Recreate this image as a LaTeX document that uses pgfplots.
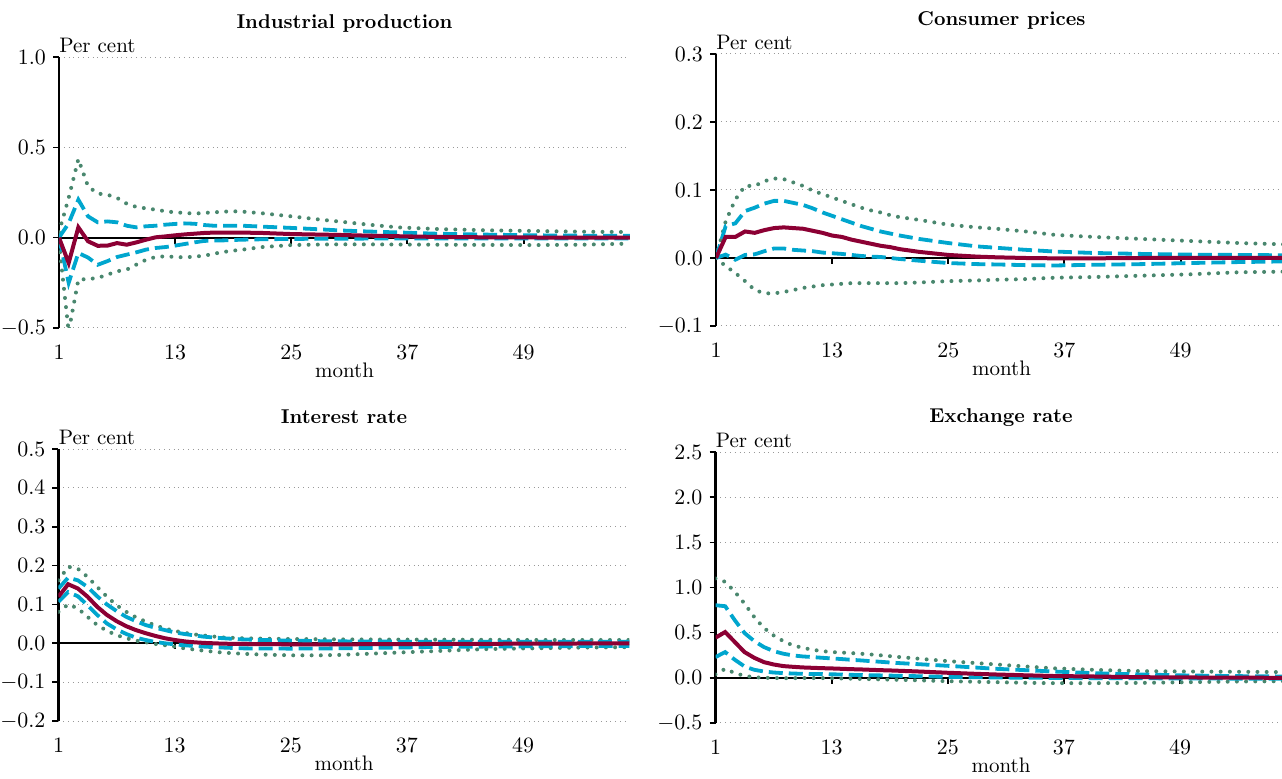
\documentclass[border=0pt]{standalone}
\usepackage{pgfplots}
\usepackage{pgfplotstable}
\pgfplotsset{compat=1.18}
\definecolor{irfred}{RGB}{140,0,52}
\definecolor{irfcyan}{RGB}{0,166,206}
\definecolor{irfgreen}{RGB}{73,135,110}

\pgfplotstableread{
m med uD lD uO lO
1 0 0 0 0.03 -0.03
2 -0.14 0.08 -0.25 0.22 -0.52
3 0.057 0.21 -0.085 0.435 -0.232
4 -0.02 0.118 -0.11 0.284 -0.229
5 -0.045 0.085 -0.15 0.244 -0.223
6 -0.044 0.09 -0.13 0.238 -0.205
7 -0.03 0.085 -0.107 0.22 -0.186
8 -0.039 0.066 -0.094 0.188 -0.177
9 -0.026 0.057 -0.081 0.17 -0.149
10 -0.011 0.063 -0.066 0.162 -0.122
11 0.002 0.066 -0.057 0.155 -0.107
12 0.007 0.072 -0.052 0.146 -0.103
13 0.013 0.076 -0.044 0.14 -0.107
14 0.018 0.079 -0.035 0.137 -0.109
15 0.022 0.077 -0.026 0.133 -0.105
16 0.026 0.07 -0.018 0.137 -0.1
17 0.028 0.066 -0.016 0.14 -0.089
18 0.028 0.066 -0.015 0.144 -0.079
19 0.028 0.066 -0.013 0.146 -0.072
20 0.028 0.066 -0.011 0.144 -0.066
22 0.026 0.061 -0.009 0.135 -0.052
25 0.02 0.054 -0.007 0.118 -0.041
28 0.017 0.046 -0.006 0.1 -0.038
30 0.015 0.04 -0.006 0.089 -0.037
33 0.011 0.034 -0.005 0.072 -0.037
36 0.008 0.029 -0.005 0.057 -0.038
40 0.004 0.022 -0.004 0.048 -0.039
45 0.002 0.017 -0.004 0.041 -0.04
50 0.001 0.013 -0.004 0.037 -0.041
55 0 0.011 -0.004 0.033 -0.039
60 0 0.011 -0.004 0.031 -0.033
}\ipdata

\pgfplotstableread{
m med uD lD uO lO
1 0 0 0 0 0
2 0.031 0.047 0.005 0.054 -0.012
3 0.031 0.051 -0.0025 0.086 -0.022
4 0.039 0.069 0.0045 0.106 -0.034
5 0.037 0.074 0.0054 0.106 -0.047
6 0.041 0.08 0.01 0.113 -0.052
7 0.044 0.084 0.014 0.117 -0.052
8 0.045 0.084 0.014 0.116 -0.05
9 0.044 0.081 0.012 0.111 -0.047
10 0.043 0.078 0.011 0.106 -0.044
11 0.04 0.073 0.01 0.099 -0.042
12 0.037 0.067 0.008 0.094 -0.04
13 0.033 0.062 0.007 0.089 -0.039
14 0.031 0.057 0.006 0.084 -0.038
15 0.027 0.052 0.0045 0.079 -0.037
16 0.024 0.047 0.003 0.074 -0.037
17 0.021 0.043 0.002 0.07 -0.037
18 0.018 0.039 0.0015 0.067 -0.037
19 0.016 0.036 0.0 0.063 -0.037
20 0.013 0.033 -0.0015 0.06 -0.037
22 0.009 0.028 -0.004 0.056 -0.036
25 0.0045 0.022 -0.0074 0.049 -0.034
28 0.002 0.017 -0.009 0.045 -0.033
30 0.001 0.015 -0.0095 0.043 -0.032
33 0.0 0.012 -0.0105 0.039 -0.031
36 -0.0005 0.0095 -0.011 0.034 -0.029
40 -0.0005 0.0074 -0.01 0.031 -0.028
45 0 0.006 -0.009 0.028 -0.026
50 0 0.005 -0.0074 0.025 -0.024
55 0 0.0045 -0.006 0.022 -0.021
60 0 0.004 -0.005 0.02 -0.02
}\cpdata

\pgfplotstableread{
m med uD lD uO lO
1 0.12 0.141 0.107 0.162 0.081
2 0.152 0.169 0.132 0.197 0.1
3 0.141 0.162 0.121 0.192 0.09
4 0.12 0.145 0.098 0.171 0.068
5 0.094 0.121 0.073 0.145 0.047
6 0.073 0.1 0.051 0.12 0.032
7 0.057 0.083 0.036 0.098 0.021
8 0.044 0.068 0.024 0.081 0.013
9 0.034 0.057 0.0145 0.067 0.0068
10 0.026 0.047 0.0085 0.056 0.0026
11 0.019 0.04 0.0034 0.046 -0.0017
12 0.013 0.034 0 0.038 -0.005
13 0.0085 0.028 -0.0026 0.032 -0.0085
14 0.005 0.024 -0.005 0.027 -0.013
15 0.0026 0.0205 -0.007 0.023 -0.016
16 0.001 0.017 -0.0085 0.02 -0.019
17 0 0.015 -0.0098 0.0175 -0.0215
18 -0.001 0.013 -0.011 0.015 -0.024
19 -0.0014 0.0115 -0.012 0.014 -0.0255
20 -0.0017 0.01 -0.013 0.013 -0.027
22 -0.0022 0.0085 -0.0135 0.012 -0.029
25 -0.0026 0.0068 -0.0137 0.011 -0.031
28 -0.0026 0.0055 -0.0133 0.0105 -0.031
30 -0.0026 0.005 -0.013 0.01 -0.03
33 -0.0024 0.0045 -0.012 0.0098 -0.027
36 -0.0021 0.0042 -0.011 0.0095 -0.024
40 -0.0017 0.004 -0.0094 0.0094 -0.02
45 -0.0013 0.004 -0.0085 0.009 -0.015
50 -0.001 0.004 -0.0077 0.0085 -0.013
55 -0.0005 0.004 -0.0072 0.0085 -0.011
60 0 0.004 -0.0068 0.0085 -0.01
}\irdata

\pgfplotstableread{
m med uD lD uO lO
1 0.444 0.804 0.23 1.1 0.037
2 0.507 0.793 0.285 1.063 0.1
3 0.396 0.637 0.2 0.952 0.052
4 0.285 0.496 0.126 0.822 0.022
5 0.222 0.407 0.089 0.674 0.007
6 0.174 0.341 0.07 0.552 0
7 0.148 0.296 0.059 0.47 -0.002
8 0.13 0.267 0.052 0.407 -0.004
9 0.122 0.248 0.048 0.359 -0.003
10 0.115 0.237 0.044 0.333 -0.002
11 0.111 0.23 0.042 0.311 -0.002
12 0.107 0.222 0.041 0.296 -0.003
13 0.104 0.215 0.039 0.285 -0.004
14 0.1 0.208 0.037 0.28 -0.007
15 0.096 0.2 0.033 0.274 -0.009
16 0.093 0.193 0.031 0.267 -0.012
17 0.089 0.185 0.029 0.259 -0.015
18 0.085 0.178 0.027 0.25 -0.017
19 0.082 0.17 0.025 0.24 -0.02
20 0.078 0.163 0.022 0.23 -0.022
22 0.07 0.151 0.018 0.212 -0.028
25 0.056 0.133 0.011 0.185 -0.037
28 0.044 0.113 0.006 0.163 -0.044
30 0.037 0.1 0.004 0.148 -0.048
33 0.028 0.085 0.001 0.126 -0.055
36 0.02 0.07 -0.001 0.105 -0.059
40 0.015 0.052 -0.004 0.089 -0.059
45 0.007 0.037 -0.005 0.074 -0.056
50 0.004 0.026 -0.007 0.07 -0.048
55 0.002 0.019 -0.009 0.067 -0.041
60 0 0.015 -0.011 0.063 -0.037
}\erdata

\pgfplotsset{
  irf/.style={
    scale only axis, width=285.5pt, height=135.5pt,
    xmin=1, xmax=60, xtick={1,13,25,37,49},
    axis x line=bottom, axis y line=left,
    axis line style={-},
    x axis line style={draw=none},
    y axis line style={line width=1.4pt},
    xtick style={draw=none},
    ytick style={black, line width=0.8pt},
    tick align=outside, major tick length=3pt,
    ymajorgrids, grid style={gray!80, dotted, line width=0.5pt},
    tick label style={font=\fontsize{11}{12}\selectfont},
    xticklabel style={yshift=-2pt},
    yticklabel style={/pgf/number format/.cd, fixed, fixed zerofill, precision=1},
    xlabel={month}, xlabel style={font=\fontsize{10.5}{12}\selectfont, yshift=5pt},
    title style={font=\bfseries\fontsize{10}{12}\selectfont, yshift=3pt},
    clip mode=individual,
  },
  med/.style={irfred, line width=2pt},
  b68/.style={irfcyan, line width=1.9pt, dash pattern=on 7pt off 3pt},
  b90/.style={irfgreen, line width=2pt, line cap=round, dash pattern=on 0pt off 4.6pt},
}

\newcommand{\zeroline}{%
  \draw[black, line width=1pt] (axis cs:1,0) -- (axis cs:60,0);
  \pgfplotsinvokeforeach{13,25,37,49}{\draw[black, line width=1pt] (axis cs:##1,0) -- ([yshift=-3pt]axis cs:##1,0);}
  \node[anchor=south west, inner sep=0pt, font=\fontsize{10.5}{12}\selectfont] at (rel axis cs:0,1) [yshift=2pt] {Per cent};
}
\newcommand{\irfplots}[1]{%
  \addplot[b90] table[x=m, y=uO] {#1};
  \addplot[b90] table[x=m, y=lO] {#1};
  \addplot[b68] table[x=m, y=uD] {#1};
  \addplot[b68] table[x=m, y=lD] {#1};
  \addplot[med] table[x=m, y=med] {#1};
}

\begin{document}
\begin{tikzpicture}
\useasboundingbox (0,0) rectangle (641pt,389pt);

\begin{axis}[irf, at={(29.5pt,225pt)}, anchor=south west,
  title={Industrial production}, ymin=-0.5, ymax=1.0, ytick={-0.5,0,0.5,1.0}]
\zeroline
\irfplots{\ipdata}
\end{axis}

\begin{axis}[irf, at={(358pt,226pt)}, anchor=south west, height=136pt,
  title={Consumer prices}, ymin=-0.1, ymax=0.3, ytick={-0.1,0,0.1,0.2,0.3}]
\zeroline
\irfplots{\cpdata}
\end{axis}

\begin{axis}[irf, at={(29.25pt,28.5pt)}, anchor=south west, height=136pt,
  title={Interest rate}, ymin=-0.2, ymax=0.5, ytick={-0.2,-0.1,0,0.1,0.2,0.3,0.4,0.5}]
\zeroline
\irfplots{\irdata}
\end{axis}

\begin{axis}[irf, at={(357.75pt,27.5pt)}, anchor=south west,
  title={Exchange rate}, ymin=-0.5, ymax=2.5, ytick={-0.5,0,0.5,1.0,1.5,2.0,2.5}]
\zeroline
\irfplots{\erdata}
\end{axis}
\end{tikzpicture}
\end{document}
